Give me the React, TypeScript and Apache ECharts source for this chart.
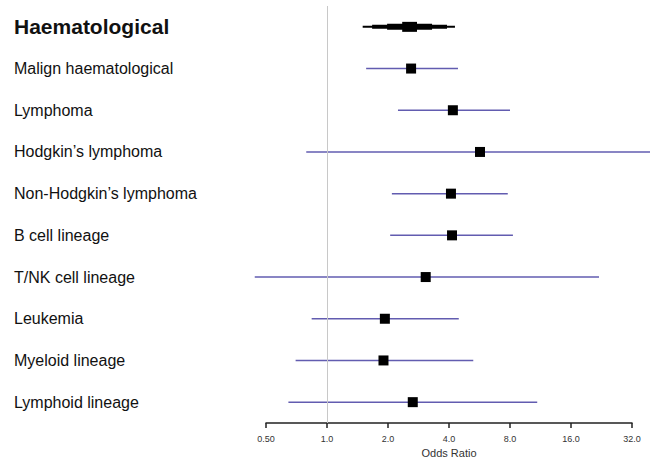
import React, { useEffect, useRef } from "react";
import * as echarts from "echarts";

const labels = [
  "Haematological",
  "Malign haematological",
  "Lymphoma",
  "Hodgkin’s lymphoma",
  "Non-Hodgkin’s lymphoma",
  "B cell lineage",
  "T/NK cell lineage",
  "Leukemia",
  "Myeloid lineage",
  "Lymphoid lineage",
];
const estimates = [2.55, 2.6, 4.18, 5.69, 4.09, 4.14, 3.07, 1.93, 1.9, 2.65];
const lowerCI = [1.5, 1.56, 2.24, 0.79, 2.09, 2.05, 0.44, 0.84, 0.7, 0.645];
const upperCI = [4.28, 4.43, 8.0, 40, 7.8, 8.27, 22.0, 4.47, 5.27, 10.9];
// summary (first row) drawn as stepped bands, widest to narrowest
const summaryLower = [1.5, 1.67, 1.98, 2.35];
const summaryUpper = [4.28, 3.91, 3.3, 2.78];
const tickValues = [0.5, 1, 2, 4, 8, 16, 32];

const FONT = 'Arial, "Liberation Sans", sans-serif';

export default function App() {
  const ref = useRef<HTMLDivElement>(null);
  useEffect(() => {
    if (!ref.current) return;
    const chart = echarts.init(ref.current, undefined, { renderer: "svg" });
    const data = labels.map((_, i) => [estimates[i], i, lowerCI[i], upperCI[i]]);
    const bandHeights = [2, 4, 6, 10];
    chart.setOption({
      animation: false,
      textStyle: { fontFamily: FONT },
      grid: { left: 266, right: 18, top: 6, height: 417, outerBoundsMode: "none", containLabel: false },
      xAxis: {
        type: "log",
        logBase: 2,
        min: tickValues[0],
        max: tickValues[tickValues.length - 1],
        axisLine: { show: true, lineStyle: { color: "#222", width: 1.5 } },
        axisTick: { show: true, length: 5, lineStyle: { color: "#222", width: 1.5 } },
        splitLine: { show: false },
        axisLabel: {
          fontSize: 9,
          color: "#333",
          margin: 11,
          fontFamily: FONT,
          formatter: (v: number) => (v < 1 ? v.toFixed(2) : v.toFixed(1)),
        },
        name: "Odds Ratio",
        nameLocation: "middle",
        nameGap: 22,
        nameTextStyle: { fontSize: 11, color: "#333", fontFamily: FONT },
      },
      yAxis: {
        type: "category",
        inverse: true,
        data: labels,
        axisLine: { show: false },
        axisTick: { show: false },
        splitLine: { show: false },
        axisLabel: {
          align: "left",
          margin: 252,
          fontSize: 16,
          color: "#111",
          fontFamily: FONT,
          formatter: (v: string, i: number) => (i === 0 ? `{b|${v}}` : v),
          rich: {
            b: { fontSize: 21, fontWeight: "bold", color: "#111", fontFamily: FONT },
          },
        },
      },
      series: [
        {
          type: "custom",
          clip: false,
          encode: { x: [0, 2, 3], y: 1 },
          data,
          renderItem: (params: any, api: any) => {
            const idx = api.value(1);
            const est = api.value(0);
            if (idx === 0) {
              const children = summaryLower.map((lo, k) => {
                const p1 = api.coord([lo, idx]);
                const p2 = api.coord([summaryUpper[k], idx]);
                const h = bandHeights[k];
                return {
                  type: "rect",
                  shape: { x: p1[0], y: p1[1] - h / 2, width: p2[0] - p1[0], height: h },
                  style: { fill: "#000" },
                };
              });
              return { type: "group", children };
            }
            const lo = api.coord([api.value(2), idx]);
            const hi = api.coord([api.value(3), idx]);
            const c = api.coord([est, idx]);
            const s = 10;
            return {
              type: "group",
              children: [
                {
                  type: "line",
                  shape: { x1: lo[0], y1: lo[1], x2: hi[0], y2: hi[1] },
                  style: { stroke: "#625cb0", lineWidth: 1.5 },
                },
                {
                  type: "rect",
                  shape: { x: c[0] - s / 2, y: c[1] - s / 2, width: s, height: s },
                  style: { fill: "#000" },
                },
              ],
            };
          },
          markLine: {
            silent: true,
            symbol: "none",
            label: { show: false },
            lineStyle: { color: "#c8c8c8", width: 1, type: "solid" },
            data: [{ xAxis: 1 }],
          },
          z: 3,
        },
      ],
    });
    return () => chart.dispose();
  }, []);
  return (
    <div
      ref={ref}
      style={{ position: "absolute", left: 0, top: 0, width: 650, height: 458, background: "#fff" }}
    />
  );
}
